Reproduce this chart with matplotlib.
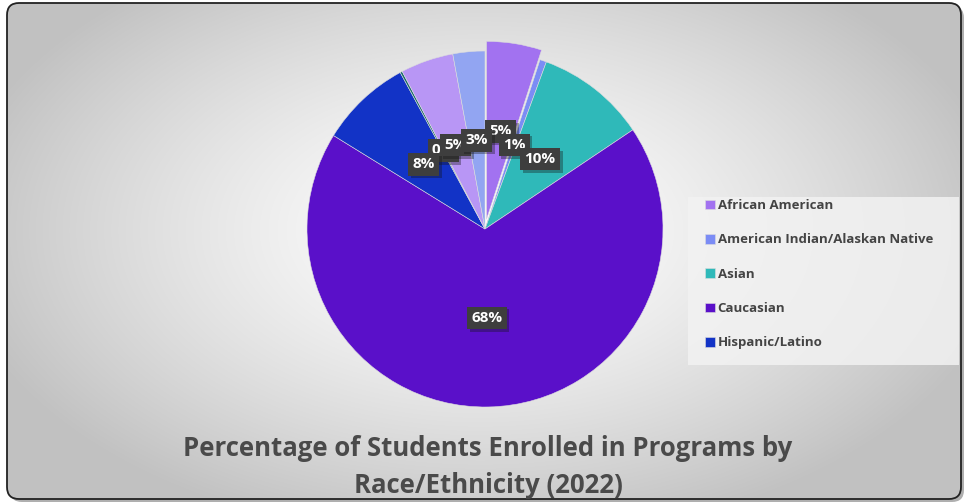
import numpy as np
import matplotlib
matplotlib.use("Agg")
import matplotlib.pyplot as plt
import matplotlib.patheffects as pe
from matplotlib.patches import FancyBboxPatch, Rectangle

FONT = ['Open Sans', 'DejaVu Sans']
plt.rcParams['font.family'] = FONT

# data
groups = ['African American', 'American Indian/Alaskan Native', 'Asian', 'Caucasian',
          'Hispanic/Latino', 'Native Hawaiian/Pacific Islander', 'Two or More Races', 'Unknown']
shares = [5.0, 0.6, 10.0, 68.2, 8.3, 0.2, 4.8, 2.9]
share_labels = ['5%', '1%', '10%', '68%', '8%', '0%', '5%', '3%']
colors = ['#a272f0', '#7b8cf5', '#2fb9b9', '#5a10c9', '#1233c6', '#1b6b6b', '#b896f5', '#92a5f2']
legend_n = 5

W, H = 965, 504
fig = plt.figure(figsize=(W / 100, H / 100), dpi=100)
fig.patch.set_facecolor('white')

# background card with gradient
bg = fig.add_axes([0, 0, 1, 1])
bg.set_xlim(0, W)
bg.set_ylim(H, 0)
bg.axis('off')
shadow = FancyBboxPatch((10, 6), 954, 496, boxstyle='round,pad=0,rounding_size=12',
                        fc='#7a7a7a', ec='none', alpha=0.6)
bg.add_patch(shadow)
card = FancyBboxPatch((7, 3), 954, 496, boxstyle='round,pad=0,rounding_size=12',
                      fc='none', ec='#222222', lw=1.3, zorder=3)
bg.add_patch(card)
yy, xx = np.mgrid[0:H, 0:W]
d = np.sqrt(((xx - 480) / 560.0) ** 2 + ((yy - 230) / 330.0) ** 2)
g = np.clip(1.0 - 0.26 * d ** 1.4, 0.76, 1.0)
im = bg.imshow(np.dstack([g, g, g]), extent=(0, W, H, 0), zorder=1, aspect='auto')
clip = FancyBboxPatch((7, 3), 954, 496, boxstyle='round,pad=0,rounding_size=12',
                      fc='none', ec='none', transform=bg.transData)
im.set_clip_path(clip)

# pie
cx, cy, R = 485, 229, 178
ax = fig.add_axes([(cx - R) / W, (H - cy - R) / H, 2 * R / W, 2 * R / H])
explode = [0.055] + [0] * (len(shares) - 1)
wedges, _ = ax.pie(shares, colors=colors, startangle=90, counterclock=False,
                   explode=explode, radius=1,
                   wedgeprops=dict(edgecolor='#dddddd', linewidth=0.4))
ax.set_xlim(-1, 1)
ax.set_ylim(-1, 1)
ax.axis('off')
for w in wedges:
    w.set_clip_on(False)

# data labels (the near-zero slice label sits underneath its neighbours)
for i, (w, lbl) in enumerate(zip(wedges, share_labels)):
    ang = np.deg2rad((w.theta1 + w.theta2) / 2)
    r = 0.5
    ox, oy = w.center
    z = 4 if shares[i] < 0.5 else 5 + i
    t = ax.text(ox + r * np.cos(ang), oy + r * np.sin(ang), lbl, ha='center', va='center',
                color='white', fontsize=11, fontweight='bold', zorder=z,
                bbox=dict(boxstyle='square,pad=0.28', fc='#3e3e3e', ec='none'))
    t.get_bbox_patch().set_path_effects([pe.SimplePatchShadow(offset=(2, -2), alpha=0.35), pe.Normal()])

# legend
bg.add_patch(Rectangle((688, 197), 271, 168, fc='#f2f2f2', ec='none', alpha=0.85, zorder=2))
leg = fig.legend(wedges[:legend_n], groups[:legend_n], loc='upper left',
                 bbox_to_anchor=(705 / W, 1 - 199 / H), frameon=False,
                 borderpad=0, borderaxespad=0,
                 handlelength=0.75, handleheight=0.75, handletextpad=0.2,
                 labelspacing=1.62, prop=dict(family=FONT, weight='bold', size=9.5))
for t in leg.get_texts():
    t.set_color('#444444')

fig.text(488 / W, 1 - 467 / H, 'Percentage of Students Enrolled in Programs by\nRace/Ethnicity (2022)',
         ha='center', va='center', fontsize=18.5, fontweight='bold', color='#4a4a4a',
         linespacing=1.5)

fig.savefig('out.png', dpi=100)
